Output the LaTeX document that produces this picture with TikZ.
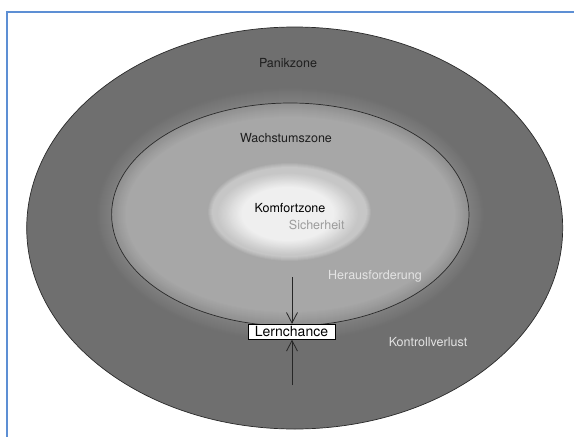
\documentclass[tikz,border=0pt]{standalone}
\usepackage{fontspec}
\setmainfont{TeX Gyre Heros}
\usetikzlibrary{arrows.meta}
\definecolor{frameblue}{HTML}{5D8FD4}
\definecolor{outerz}{HTML}{6F6F6F}
\definecolor{haloz}{HTML}{818181}
\definecolor{midedge}{HTML}{909090}
\definecolor{midz}{HTML}{A7A7A7}
\definecolor{innrim}{HTML}{C6C6C6}
\definecolor{inncore}{HTML}{EFEFEF}
\definecolor{darktext}{HTML}{1E1E1E}
\definecolor{lighttext}{HTML}{E4E4E4}
\definecolor{sichertext}{HTML}{9C9C9C}
\definecolor{rimline}{HTML}{2A2A2A}
\tikzset{
  zonelabel/.style={font=\fontsize{12.5}{15}\selectfont, inner sep=0pt, anchor=base},
  boxlabel/.style={draw=black, fill=white, line width=0.9pt, inner sep=0pt,
    minimum width=87, minimum height=15, font=\fontsize{14}{16}\selectfont},
  pointer/.style={draw=black!85, line width=0.8pt,
    -{Straight Barb[length=10.5pt,width=11pt,line width=0.8pt]}},
  rim/.style={draw=rimline, line width=0.7pt}
}
\begin{document}
\begin{tikzpicture}[x=1pt,y=-1pt]
\useasboundingbox (0,0) rectangle (574,437);
\fill[white] (0,0) rectangle (574,437);
% frame
\draw[frameblue, line width=2pt] (6.5,437) -- (6.5,11.5) -- (574,11.5);
% outer zone
\fill[outerz] (294.7,228) ellipse [x radius=268, y radius=201];
% halo outside growth zone
\foreach \d in {16,15,...,1}{
  \pgfmathtruncatemacro\p{100*(1-\d/16)}
  \fill[haloz!\p!outerz] (290.3,214.5) ellipse [x radius=178.7+\d, y radius=111.5+\d];
}
% growth zone
\fill[midedge] (290.3,214.5) ellipse [x radius=178.7, y radius=111.5];
\foreach \d in {1,...,14}{
  \pgfmathtruncatemacro\p{100*\d/14}
  \fill[midz!\p!midedge] (290.3,214.5) ellipse [x radius=178.7-\d, y radius=111.5-\d];
}
% comfort zone soft edge
\foreach \d in {4,3,2,1}{
  \pgfmathtruncatemacro\p{100*(1-\d/5)}
  \fill[innrim!\p!midz] (289.5,212) ellipse [x radius=77.5+\d, y radius=45+\d];
}
\fill[innrim] (289.5,212) ellipse [x radius=77.5, y radius=45];
\foreach \k in {0,...,20}{
  \pgfmathsetmacro\f{0.92-0.016*\k}
  \pgfmathtruncatemacro\p{5*\k}
  \fill[inncore!\p!innrim] (288,214) ellipse [x radius=77.5*\f, y radius=45*\f];
}
% outlines
\draw[rim] (294.7,228) ellipse [x radius=268, y radius=201];
\draw[rim] (290.3,214.5) ellipse [x radius=178.7, y radius=111.5];
% labels
\node[zonelabel, text=darktext] (panik) at (288,67.5) {Panikzone};
\node[zonelabel, text=darktext] (wachs) at (286,142.3) {Wachstumszone};
\node[zonelabel, text=black] (komfort) at (290,212.3) {Komfortzone};
\node[zonelabel, text=sichertext] (sicher) at (316.7,229.3) {Sicherheit};
\node[zonelabel, text=lighttext] (heraus) at (375,279) {Herausforderung};
\node[zonelabel, text=lighttext] (kontroll) at (428,346) {Kontrollverlust};
% learning chance
\node[boxlabel] (lern) at (291.5,331.8) {Lernchance};
\coordinate (atop) at (292,277);
\coordinate (abot) at (292,385);
\draw[pointer] (atop) -- (atop |- lern.north);
\draw[pointer] (abot) -- (abot |- lern.south);
\end{tikzpicture}
\end{document}
